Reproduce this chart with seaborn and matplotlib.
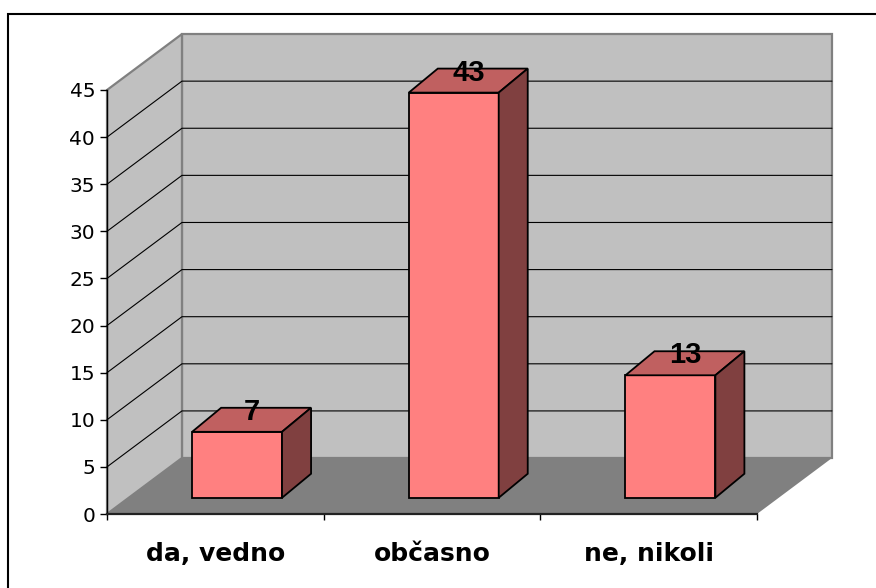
import matplotlib
matplotlib.use("Agg")
import matplotlib.pyplot as plt
from matplotlib.patches import Polygon, Rectangle
import seaborn as sns

categories = ["da, vedno", "občasno", "ne, nikoli"]
values = [7, 43, 13]
y_ticks = list(range(0, 50, 5))

wall_color = "#C0C0C0"
floor_color = "#808080"
edge_gray = "#808080"
front_color = "#FF8080"
top_color = "#C06060"
side_color = "#804040"

# oblique "3D" depth, in data units (x = category units, y = value units)
depth_x, depth_y = 0.346, 5.94
bar_front = 0.29          # how far into the depth the bar front face sits
bar_dx, bar_dy = 0.134, 2.55

sns.set_style("white")
plt.rcParams['font.family'] = ['DejaVu Sans']
plt.rcParams['text.color'] = 'black'
plt.rcParams['xtick.color'] = 'black'
plt.rcParams['ytick.color'] = 'black'
plt.rcParams['xtick.labelcolor'] = 'black'
plt.rcParams['ytick.labelcolor'] = 'black'

fig = plt.figure(figsize=(8.76, 5.88), dpi=100)
ax = fig.add_axes([107 / 876, 74 / 588, 650 / 876, 424 / 588])
ax.set_facecolor("none")

# front bars via seaborn
sns.barplot(x=categories, y=values, color=front_color, saturation=1, width=0.415,
            edgecolor="black", linewidth=1.3, ax=ax, zorder=3)

x0, x1 = -0.5, len(categories) - 0.5
ytop = y_ticks[-1]

# back wall, left wall, floor
ax.add_patch(Polygon([(x0 + depth_x, depth_y), (x1 + depth_x, depth_y),
                      (x1 + depth_x, ytop + depth_y), (x0 + depth_x, ytop + depth_y)],
                     facecolor=wall_color, edgecolor=edge_gray, lw=1.6, zorder=0.5, clip_on=False))
ax.add_patch(Polygon([(x0, 0), (x0 + depth_x, depth_y), (x0 + depth_x, ytop + depth_y), (x0, ytop)],
                     facecolor=wall_color, edgecolor=edge_gray, lw=1.6, zorder=0.5, clip_on=False))
ax.add_patch(Polygon([(x0, 0), (x1, 0), (x1 + depth_x, depth_y), (x0 + depth_x, depth_y)],
                     facecolor=floor_color, edgecolor="none", zorder=0.6, clip_on=False))

# gridlines on left and back walls
for t in y_ticks[1:-1]:
    ax.plot([x0, x0 + depth_x, x1 + depth_x], [t, t + depth_y, t + depth_y],
            color="black", lw=0.8, zorder=1, clip_on=False)

# push bars into the depth, add top and side faces, value labels
off_x, off_y = bar_front * depth_x, bar_front * depth_y
for bar in ax.containers[0]:
    bar.set_x(bar.get_x() + off_x)
    bar.set_y(bar.get_y() + off_y)
    bx, by = bar.get_x(), bar.get_y()
    w, h = bar.get_width(), bar.get_height()
    top = by + h
    ax.add_patch(Polygon([(bx, top), (bx + w, top), (bx + w + bar_dx, top + bar_dy), (bx + bar_dx, top + bar_dy)],
                         facecolor=top_color, edgecolor="black", lw=1.3, zorder=3, clip_on=False))
    ax.add_patch(Polygon([(bx + w, by), (bx + w + bar_dx, by + bar_dy), (bx + w + bar_dx, top + bar_dy), (bx + w, top)],
                         facecolor=side_color, edgecolor="black", lw=1.3, zorder=3, clip_on=False))
    ax.text(bx + w / 2 + bar_dx / 2, top + bar_dy / 2, f"{h:g}", ha="center", va="baseline",
            fontsize=21, fontweight="bold", family="Liberation Sans", color="black", zorder=5)

ax.set_xlim(x0, x1)
ax.set_ylim(0, ytop)
ax.set_yticks(y_ticks)
ax.set_xticks(range(len(categories)))
ax.set_xticklabels(categories, fontsize=18, fontweight="bold")
ax.set_xticks([x0 + i for i in range(len(categories) + 1)], minor=True)
ax.set_xlabel("")
ax.set_ylabel("")
ax.tick_params(axis="x", which="major", bottom=True, length=0, pad=20)
ax.tick_params(axis="x", which="minor", bottom=True, length=4, width=1, color="black", direction="out")
ax.tick_params(axis="y", left=True, length=5, width=1, color="black", direction="out",
               labelsize=14.5, pad=3.5)

for s in ["top", "right"]:
    ax.spines[s].set_visible(False)
ax.spines["left"].set_color("black")
ax.spines["left"].set_linewidth(1)
ax.spines["bottom"].set_color("#222222")
ax.spines["bottom"].set_linewidth(1.6)

# outer chart frame (right and bottom fall outside the picture)
fig.add_artist(Rectangle((8 / 876, -0.5), 2, (588 - 14) / 588 + 0.5, transform=fig.transFigure,
                         fill=False, edgecolor="black", lw=1.5))

fig.savefig("out.png", dpi=100)
